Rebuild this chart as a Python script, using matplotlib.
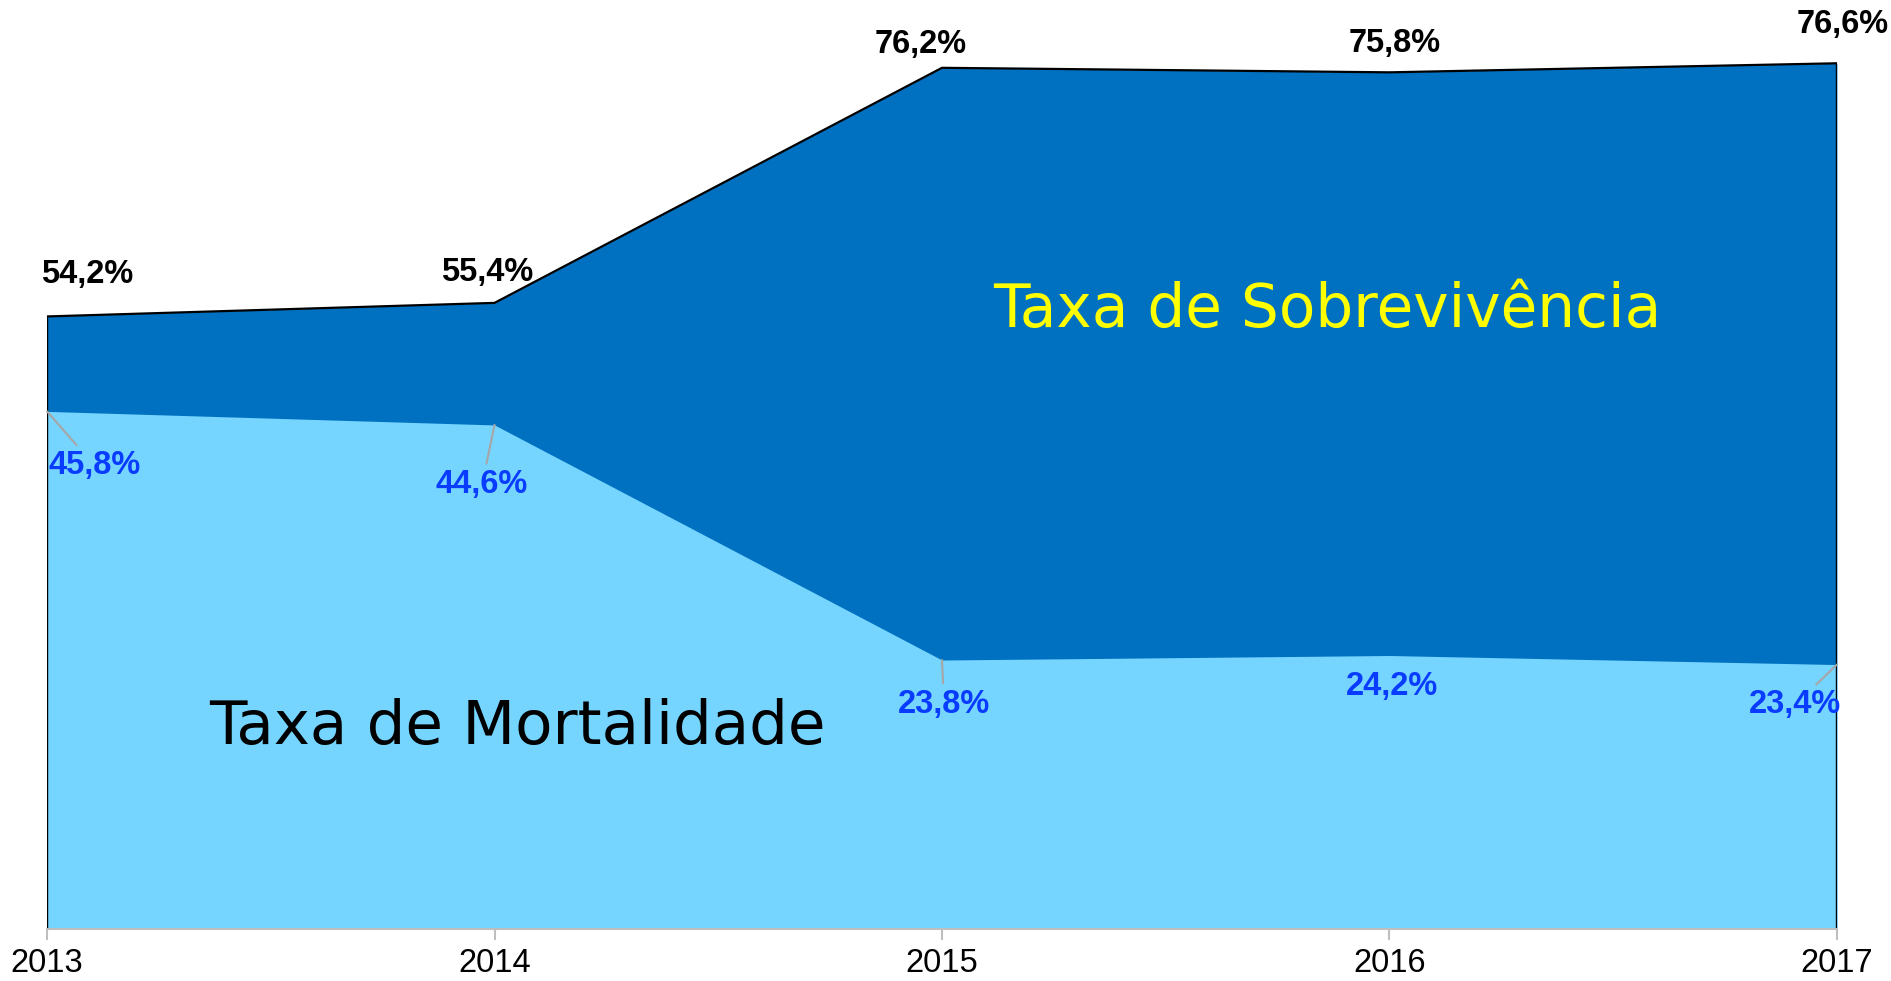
import matplotlib.pyplot as plt

# data
anos = [2013, 2014, 2015, 2016, 2017]
sobrevivencia = [54.2, 55.4, 76.2, 75.8, 76.6]
mortalidade = [45.8, 44.6, 23.8, 24.2, 23.4]
rot_sobrev = ['54,2%', '55,4%', '76,2%', '75,8%', '76,6%']
rot_mort = ['45,8%', '44,6%', '23,8%', '24,2%', '23,4%']

# label offsets (points), placed by hand like in the original
off_sobrev = [(29, 30), (-5, 22), (-15, 17), (4, 21), (4, 28)]
off_mort = [(34, -39), (-9, -43), (1.5, -32), (2, -22), (-30, -29)]
leader = [True, True, True, False, True]

plt.rcParams['font.family'] = ['Liberation Sans', 'DejaVu Sans']

fig = plt.figure(figsize=(18.91, 9.81), dpi=100)
ax = fig.add_axes([0.0249, 0.053, 0.9465, 0.947])

ax.fill_between(anos, 0, sobrevivencia, color='#0070C0', lw=0, zorder=1)
ax.fill_between(anos, 0, mortalidade, color='#75D5FF', lw=0, zorder=2)
# black outline of the survival area
ax.plot([anos[0]] + anos + [anos[-1]], [0] + sobrevivencia + [0],
        color='black', lw=1.6, zorder=3, solid_joinstyle='miter')

for x, y, t, o in zip(anos, sobrevivencia, rot_sobrev, off_sobrev):
    ax.annotate(t, (x, y), xytext=o, textcoords='offset points',
                ha='center', va='center', fontsize=23.5, fontweight='bold',
                color='black', zorder=5, annotation_clip=False)

for x, y, t, o, l in zip(anos, mortalidade, rot_mort, off_mort, leader):
    ap = dict(arrowstyle='-', color='#A6A6A6', lw=1.5, shrinkA=2, shrinkB=0) if l else None
    ax.annotate(t, (x, y), xytext=o, textcoords='offset points',
                ha='center', va='center', fontsize=23.5, fontweight='bold',
                color='#0A3CFF', zorder=5, arrowprops=ap, annotation_clip=False)

ax.text(2015.86, 54.7, 'Taxa de Sobrevivência', color='#FFFF00', fontsize=43,
        ha='center', va='center', family='DejaVu Sans', zorder=6)
ax.text(2014.05, 17.8, 'Taxa de Mortalidade', color='black', fontsize=44,
        ha='center', va='center', family='DejaVu Sans', zorder=6)

ax.set_xlim(2013, 2017)
ax.set_ylim(0, 82.2)
ax.set_xticks(anos)
ax.set_xticklabels([str(a) for a in anos], fontsize=23.5)
ax.set_yticks([])
for s in ['top', 'left', 'right']:
    ax.spines[s].set_visible(False)
ax.spines['bottom'].set_color('#BFBFBF')
ax.spines['bottom'].set_linewidth(1.5)
ax.spines['bottom'].set_zorder(4)
ax.tick_params(axis='x', colors='#BFBFBF', length=8, width=1.5, pad=6, labelcolor='black')

fig.savefig('out.png', dpi=100)
